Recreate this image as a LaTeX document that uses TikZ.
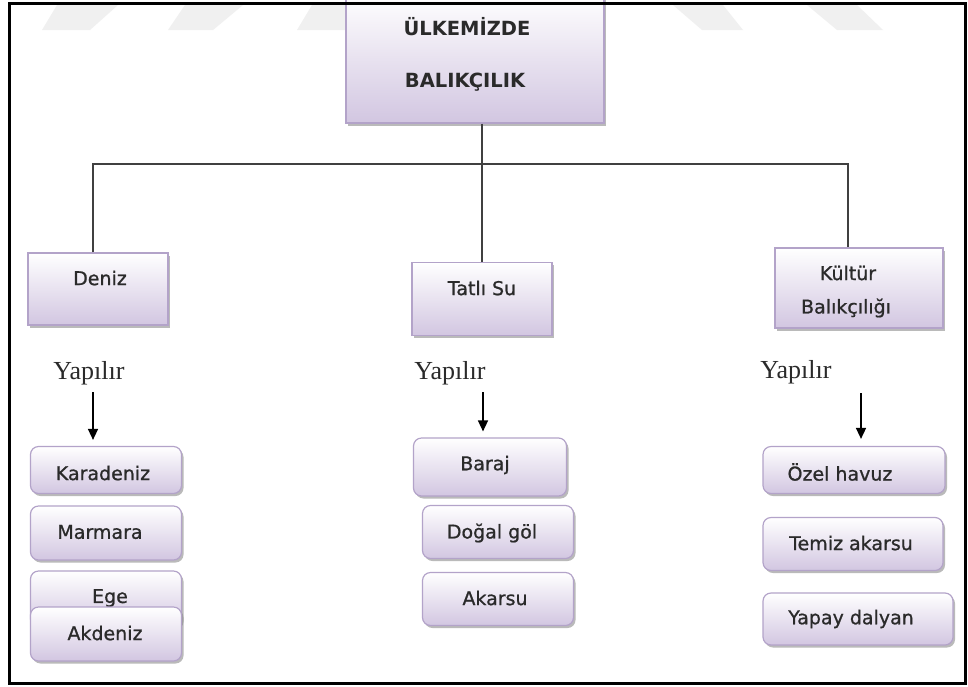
\documentclass[tikz,border=0pt]{standalone}
\usepackage{fontspec}
\setmainfont{DejaVu Sans}
\newfontfamily\yserif{Liberation Serif}
\newfontfamily\boxfont[FakeBold=0.9]{DejaVu Sans}
\usetikzlibrary{arrows.meta,shadows}
\definecolor{boxline}{HTML}{B3A3C9}
\definecolor{boxlow}{HTML}{D2C6E1}
\definecolor{txtgray}{HTML}{2A2A2A}
\definecolor{wm}{HTML}{F0F0F0}
\tikzset{
  sbox/.style={draw=boxline, line width=1.2pt, top color=white, bottom color=boxlow,
    drop shadow={shadow xshift=2pt, shadow yshift=-2.5pt, fill=black!45, opacity=.6},
    inner sep=0pt},
  rbox/.style={sbox, rounded corners=8pt},
  btxt/.style={text=txtgray, font=\boxfont\fontsize{19}{22}\selectfont, inner sep=0pt},
  ttxt/.style={text=txtgray, font=\bfseries\fontsize{19.5}{22}\selectfont, inner sep=0pt},
  ytxt/.style={text=txtgray, font=\yserif\fontsize{26}{28}\selectfont, inner sep=0pt},
  conn/.style={draw=black!75, line width=1.5pt},
  arr/.style={draw=black, line width=1.5pt, -{Triangle[width=10pt,length=11pt]}},
}
\begin{document}
\begin{tikzpicture}[x=1pt,y=-1pt]
\useasboundingbox (0,0) rectangle (968,686);
\fill[white] (0,0) rectangle (968,686);
% faint watermark stripes
\fill[wm] (42,30) -- (90,30) -- (118,5) -- (57,5) -- cycle;
\fill[wm] (168,30) -- (213,30) -- (243,5) -- (185,5) -- cycle;
\fill[wm] (297,30) -- (345,30) -- (345,5) -- (312,5) -- cycle;
\fill[wm] (673,5) -- (723,5) -- (743,30) -- (702,30) -- cycle;
\fill[wm] (807,5) -- (857,5) -- (883,30) -- (837,30) -- cycle;

% top box
\node[sbox, minimum width=258pt, minimum height=130pt] (top) at (475,58) {};
\node[ttxt] (t1) at (467,27) {ÜLKEMİZDE};
\node[ttxt] (t2) at (465,82) {BALIKÇILIK};

% level 2 boxes
\node[sbox, minimum width=140pt, minimum height=72pt] (deniz) at (98,289) {};
\node[btxt] (denizt) at (100,278) {Deniz};
\node[sbox, minimum width=140pt, minimum height=73pt] (tatli) at (482,299) {};
\node[btxt] (tatlit) at (482,288) {Tatlı Su};
\node[sbox, minimum width=168pt, minimum height=80pt] (kultur) at (859,288) {};
\node[btxt] (kultur1) at (848,273) {Kültür};
\node[btxt] (kultur2) at (846,308) {Balıkçılığı};

% connectors
\coordinate (busL) at (93,164);
\coordinate (busR) at (848,164);
\draw[conn] (top.south -| tatli.north) -- (tatli.north);
\draw[conn] (deniz.north -| busL) -- (busL) -- (busR) -- (kultur.north -| busR);

% Yapılır labels
\node[ytxt] (y1) at (89,373) {Yapılır};
\node[ytxt] (y2) at (450,373) {Yapılır};
\node[ytxt] (y3) at (796,372) {Yapılır};

% leaf boxes - Deniz
\node[rbox, minimum width=151pt, minimum height=47pt] (kara) at (106,470) {};
\node[btxt] (karat) at (103,473) {Karadeniz};
\node[rbox, minimum width=151pt, minimum height=54pt] (marm) at (106,533) {};
\node[btxt] (marmt) at (100,532) {Marmara};
\node[rbox, minimum width=151pt, minimum height=56pt] (ege) at (106,599) {};
\node[btxt] (eget) at (110,598) {Ege};
\node[rbox, minimum width=151pt, minimum height=54pt] (akd) at (106,634) {};
\node[btxt] (akdt) at (105,633) {Akdeniz};

% leaf boxes - Tatlı Su
\node[rbox, minimum width=153pt, minimum height=58pt] (baraj) at (490,467) {};
\node[btxt] (barajt) at (485,465) {Baraj};
\node[rbox, minimum width=151pt, minimum height=53pt] (dogal) at (498,532) {};
\node[btxt] (dogalt) at (492,533) {Doğal göl};
\node[rbox, minimum width=151pt, minimum height=53pt] (akar) at (498,599) {};
\node[btxt] (akart) at (495,598) {Akarsu};

% leaf boxes - Kültür
\node[rbox, minimum width=182pt, minimum height=47pt] (ozel) at (854,470) {};
\node[btxt] (ozelt) at (840,472) {Özel havuz};
\node[rbox, minimum width=180pt, minimum height=53pt] (temiz) at (853,544) {};
\node[btxt] (temizt) at (851,543) {Temiz akarsu};
\node[rbox, minimum width=190pt, minimum height=52pt] (yapay) at (858,619) {};
\node[btxt] (yapayt) at (851,619) {Yapay dalyan};

% arrows
\coordinate (a1) at (93,392);
\coordinate (a2) at (483,392);
\coordinate (a3) at (861,393);
\draw[arr, shorten >=6pt] (a1) -- (a1 |- kara.north);
\draw[arr, shorten >=6pt] (a2) -- (a2 |- baraj.north);
\draw[arr, shorten >=7pt] (a3) -- (a3 |- ozel.north);

% outer frame
\draw[line width=3pt] (9,3) rectangle (965,683);
\end{tikzpicture}
\end{document}
